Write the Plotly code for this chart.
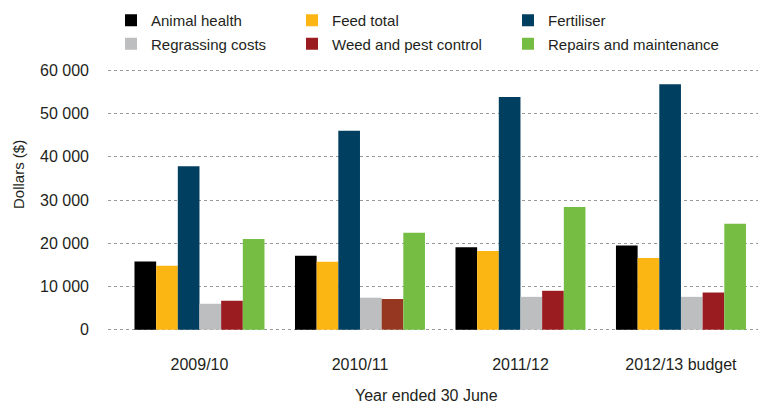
import plotly.graph_objects as go

# ---- data ----
years = ["2009/10", "2010/11", "2011/12", "2012/13 budget"]
animal_health = [15800, 17100, 19100, 19500]
feed_total = [14800, 15700, 18200, 16600]
fertiliser = [37800, 46000, 53800, 56800]
regrassing = [6000, 7400, 7600, 7600]
weed_pest = [6700, 7100, 9000, 8600]
repairs = [21000, 22400, 28400, 24500]

y_tick_values = [0, 10000, 20000, 30000, 40000, 50000, 60000]
y_tick_labels = ["0", "10 000", "20 000", "30 000", "40 000", "50 000", "60 000"]

series_names = ["Animal health", "Feed total", "Fertiliser",
                "Regrassing costs", "Weed and pest control", "Repairs and maintenance"]
series_values = [animal_health, feed_total, fertiliser, regrassing, weed_pest, repairs]
series_colors = ["#000000", "#FBB614", "#003F5F",
                 ["#BDBEC0"] * 4,
                 ["#9B1C20", "#963821", "#9B1C20", "#9B1C20"],
                 "#76BE43"]
# legend columns: legend (col 1), legend2 (col 2), legend3 (col 3)
legend_ids = ["legend", "legend2", "legend3", "legend", "legend2", "legend3"]

FONT = "Liberation Sans, Arial, sans-serif"
TXT = "#231F20"

W, H = 760, 403
ML, MR, MT, MB = 108, 2, 69, 72
PW = W - ML - MR
PH = H - MT - MB

fig = go.Figure()
for i, (name, vals, col, lg) in enumerate(zip(series_names, series_values, series_colors, legend_ids)):
    fig.add_trace(go.Bar(
        x=years, y=vals, name=name,
        marker=dict(color=col, line=dict(width=0)),
        legend=lg, legendgroup=f"g{i}",
    ))

legend_common = dict(
    orientation="v", xref="container", yref="container",
    xanchor="left", yanchor="top",
    font=dict(family=FONT, size=15, color=TXT),
    bgcolor="rgba(0,0,0,0)", borderwidth=0, tracegroupgap=1,
    itemclick=False, itemdoubleclick=False,
)
y_top = 1 - 4 / H

fig.update_layout(
    width=W, height=H,
    margin=dict(l=ML, r=MR, t=MT, b=MB, pad=0, autoexpand=False),
    paper_bgcolor="white", plot_bgcolor="white",
    font=dict(family=FONT, size=16, color=TXT),
    barmode="group", bargap=0.19, bargroupgap=0,
    showlegend=True,
    legend=dict(x=111 / W, y=y_top, **legend_common),
    legend2=dict(x=292 / W, y=y_top, **legend_common),
    legend3=dict(x=508 / W, y=y_top, **legend_common),
    xaxis=dict(
        type="category", range=[-0.57, 3.48], automargin=False,
        showgrid=False, zeroline=False, showline=False, ticks="",
        tickfont=dict(family=FONT, size=16, color=TXT),
        ticklabelstandoff=22,
    ),
    yaxis=dict(
        range=[-300, 60300], automargin=False,
        tickmode="array", tickvals=y_tick_values, ticktext=y_tick_labels,
        showgrid=True, gridcolor="#9A9A9A", gridwidth=1, griddash="dot",
        zeroline=False, showline=False, ticks="",
        tickfont=dict(family=FONT, size=16, color=TXT),
        ticklabelstandoff=18,
    ),
    annotations=[
        dict(text="Dollars ($)", textangle=-90, showarrow=False,
             xref="paper", yref="paper",
             x=(18 - ML) / PW, y=(H - MB - 175) / PH,
             xanchor="center", yanchor="middle",
             font=dict(family=FONT, size=15, color=TXT)),
        dict(text="Year ended 30 June", showarrow=False,
             xref="paper", yref="paper",
             x=(426 - ML) / PW, y=(H - MB - 395) / PH,
             xanchor="center", yanchor="middle",
             font=dict(family=FONT, size=16, color=TXT)),
    ],
)

fig.write_html("out.html", config={"displayModeBar": False},
               post_script="document.body.style.margin='0';")
